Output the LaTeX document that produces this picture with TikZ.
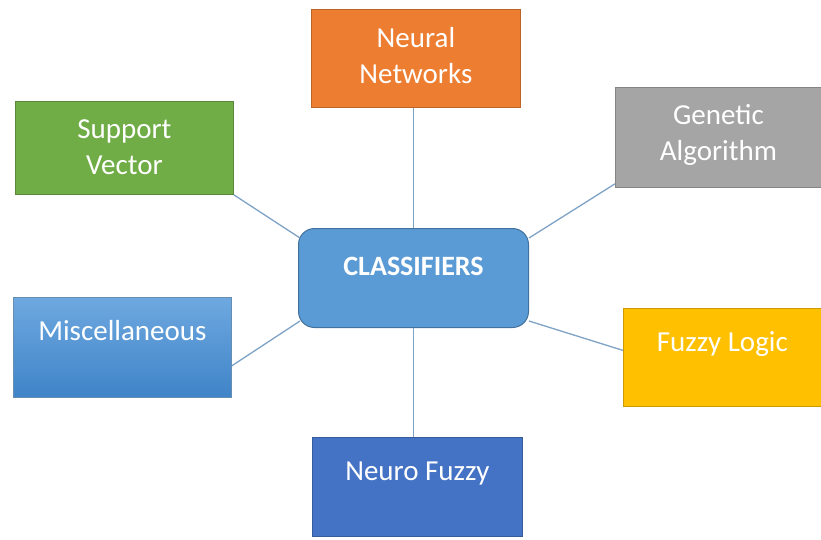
\documentclass[tikz,border=0pt]{standalone}
\usepackage{fontspec}
\setmainfont{Carlito}
\usetikzlibrary{calc}
\definecolor{cOrange}{HTML}{ED7D31}
\definecolor{cGreen}{HTML}{70AD47}
\definecolor{cGray}{HTML}{A5A5A5}
\definecolor{cGold}{HTML}{FFC000}
\definecolor{cBlueDark}{HTML}{4472C4}
\definecolor{cBlue}{HTML}{5B9BD5}
\definecolor{cBlueEdge}{HTML}{41719C}
\definecolor{cMiscTop}{HTML}{6EA8E0}
\definecolor{cMiscBot}{HTML}{3F84C8}
\definecolor{cLine}{HTML}{7FA3C6}
\begin{document}
\begin{tikzpicture}[x=1pt,y=-1pt,
  box/.style={rectangle, draw=#1!80!black, line width=0.8pt, fill=#1, inner sep=0pt, anchor=north west},
  lbl/.style={text=white, font=\fontsize{29}{36}\selectfont, align=center, anchor=north, inner sep=0pt},
  link/.style={draw=cLine, line width=1.3pt}
]
\useasboundingbox[fill=white] (0,0) rectangle (821,539);
% boxes
\node[box=cOrange, minimum width=209pt, minimum height=98pt] (nn) at (311,9) {};
\node[box=cGreen, minimum width=218pt, minimum height=93pt] (sv) at (15,101) {};
\node[box=cGray, minimum width=206pt, minimum height=100pt] (ga) at (615,87) {};
\node[rectangle, draw=cBlueEdge!80, line width=0.8pt, top color=cMiscTop, bottom color=cMiscBot, inner sep=0pt, anchor=north west, minimum width=218pt, minimum height=100pt] (mi) at (13,297) {};
\node[box=cGold, minimum width=198pt, minimum height=98pt] (fl) at (623,308) {};
\node[box=cBlueDark, minimum width=210pt, minimum height=99pt] (nf) at (312,437) {};
\node[rectangle, rounded corners=16pt, draw=cBlueEdge, line width=1pt, fill=cBlue, inner sep=0pt, anchor=north west, minimum width=230pt, minimum height=99pt] (cl) at (298,228) {};
% texts
\node[lbl] (nnt) at ($(nn.north)+(0,18)$) {Neural\\Networks};
\node[lbl] (svt) at ($(sv.north)+(0,18)$) {Support\\Vector};
\node[lbl] (gat) at ($(ga.north)+(0,17)$) {Genetic\\Algorithm};
\node[lbl] (mit) at ($(mi.north)+(0,23)$) {Miscellaneous};
\node[lbl] (flt) at ($(fl.north)+(0,23)$) {Fuzzy Logic};
\node[lbl] (nft) at ($(nf.north)+(0,25)$) {Neuro Fuzzy};
\node[lbl, font=\bfseries\fontsize{28}{34}\selectfont] (clt) at ($(cl.north)+(0,29)$) {CLASSIFIERS};
% connectors
\coordinate (clNW) at ($(cl.north west)+(2,10)$);
\coordinate (clNE) at ($(cl.north east)+(0,10)$);
\coordinate (clSW) at ($(cl.south west)+(2,-7)$);
\coordinate (clSE) at ($(cl.south east)+(0,-7)$);
\coordinate (nnB) at (cl.north |- nn.south);
\coordinate (nfT) at (cl.south |- nf.north);
\draw[link] (nnB) -- (cl.north);
\draw[link] (nfT) -- (cl.south);
\draw[link] (sv.south east) -- (clNW);
\draw[link] ($(ga.south west)+(0,-4)$) -- (clNE);
\draw[link] ($(mi.south east)+(0,-32)$) -- (clSW);
\draw[link] ($(fl.west)+(0,-7)$) -- (clSE);
\end{tikzpicture}
\end{document}
